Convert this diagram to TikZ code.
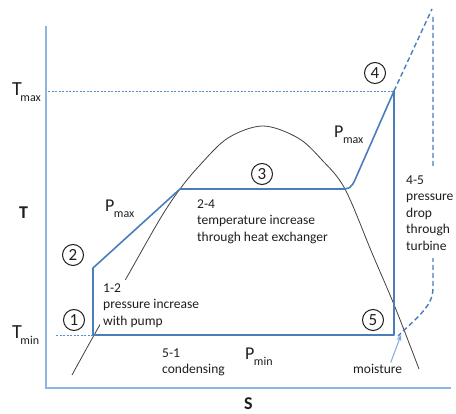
\documentclass[tikz,border=0pt]{standalone}
\usepackage{fontspec}
\setmainfont{Carlito}
\usetikzlibrary{arrows.meta}
\definecolor{cycc}{HTML}{4A7EBB}
\definecolor{axc}{HTML}{8EB4E3}
\definecolor{txt}{HTML}{1E1E1E}
\definecolor{domec}{HTML}{404040}
\definecolor{marr}{HTML}{7FA7D9}
\definecolor{guide}{HTML}{5B8BC9}
\newcommand{\lowsub}[2][-1.5pt]{\kern#1{\fontsize{12}{13}\selectfont\raisebox{-6pt}{#2}}}
\tikzset{
 cycline/.style={draw=cycc, line width=1.6pt, line join=round},
 axisline/.style={draw=axc, line width=1.4pt},
 thindash/.style={draw=guide, line width=0.8pt, dash pattern=on 2pt off 1.5pt},
 thickdash/.style={draw=cycc, line width=1.4pt, dash pattern=on 5pt off 3pt},
 domeline/.style={draw=domec, line width=0.8pt},
 lbl/.style={text=txt, font=\fontsize{13.5}{16.5}\selectfont, align=left, inner sep=0pt, anchor=north west},
 bigl/.style={text=txt, font=\fontsize{20}{22}\selectfont, inner sep=0pt, anchor=base west},
 midl/.style={text=txt, font=\fontsize{18}{20}\selectfont, inner sep=0pt, anchor=base west},
 boldl/.style={text=txt, font=\fontsize{18}{20}\selectfont\bfseries, inner sep=0pt, anchor=base west},
 numc/.style={circle, draw=txt, line width=1pt, minimum size=21pt, inner sep=0pt, text=txt, font=\fontsize{17}{18}\selectfont},
 marrow/.style={draw=marr, line width=1pt, -{Stealth[length=6pt,width=5pt]}},
}
\begin{document}
\begin{tikzpicture}[x=1pt,y=-1pt]
\useasboundingbox (0,0) rectangle (456,414);
% axes
\coordinate (ax0) at (46,26);
\coordinate (axo) at (46,388);
\coordinate (ax1) at (451,388);
\draw[axisline] (ax0) -- (axo) -- (ax1);
% cycle points
\coordinate (p1) at (93,335);
\coordinate (p2) at (93,268);
\coordinate (p2b) at (180,189);
\coordinate (p3) at (345,189);
\coordinate (p4) at (394,91);
\coordinate (p5) at (394,335);
\coordinate (tmaxL) at (48,91);
\coordinate (tminL) at (56,335);
\coordinate (e1) at (432,9);
\coordinate (e2) at (433,17);
\coordinate (e3) at (433,288);
\coordinate (e4) at (398,336);
% dome
\draw[domeline] plot[smooth, tension=0.55] coordinates {(72,375) (93,337) (127,277) (160,219) (180,189) (200,165) (228,138) (263,126) (298,138) (322,160) (345,189) (372,253) (395,307) (419,369)};
% dashed guides
\draw[thindash] (tmaxL) -- (p4);
\draw[thindash] (tminL) -- (p1);
\draw[thickdash] (p4) -- (e1);
\draw[thickdash] (e2) -- (e3) .. controls (433,305) and (420,315) .. (e4);
% cycle
\draw[cycline] (p1) -- (p2) -- (p2b) -- (p3) .. controls (352,189) and (354,182) .. (358,173) -- (p4) -- (p5) -- cycle;
% labels
\node[bigl] (tmax) at (12,96) {T\lowsub{max}};
\node[bigl] (tmin) at (12,339) {T\lowsub{min}};
\node[boldl] (tlab) at (19,219) {T};
\node[boldl] (slab) at (244,410) {S};
\node[midl] (pmaxl) at (105,212) {P\lowsub[-0.5pt]{max}};
\node[midl] (pmaxr) at (334,138) {P\lowsub[-0.5pt]{max}};
\node[midl] (pmin) at (245,360) {P\lowsub[-0.5pt]{min}};
\node[lbl] (l24) at (197,199.4) {2-4\\temperature increase\\through heat exchanger};
\node[lbl, fill=white, inner xsep=3pt, inner ysep=4pt] (l12) at (100,279.4) {1-2\\pressure increase\\with pump};
\node[lbl] (l51) at (162,348.4) {5-1\\condensing};
\node[lbl, fill=white, inner xsep=4pt, inner ysep=8pt] (l45) at (402,167.4) {4-5\\pressure\\drop\\through\\turbine};
\node[text=txt, font=\fontsize{13.5}{16.5}\selectfont, inner sep=0pt, anchor=base west] (moist) at (353,374) {moisture};
\draw[marrow] ([xshift=13pt,yshift=2pt]moist.north) -- ([xshift=3pt,yshift=1pt]e4);
% circled numbers
\node[numc] (n1) at (74,320) {1};
\node[numc] (n2) at (73,255) {2};
\node[numc] (n3) at (262,174) {3};
\node[numc] (n4) at (375,73) {4};
\node[numc] (n5) at (373,320) {5};
\end{tikzpicture}
\end{document}
